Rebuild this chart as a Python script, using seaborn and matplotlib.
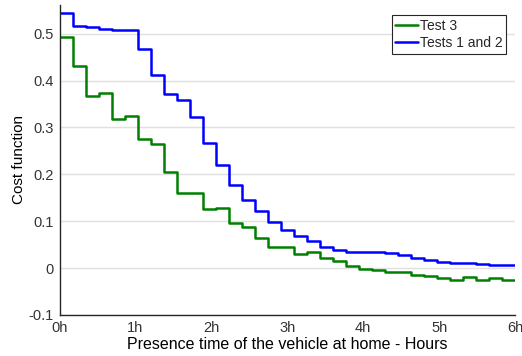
import numpy as np
import pandas as pd
import matplotlib
matplotlib.use("Agg")
import matplotlib.pyplot as plt
import seaborn as sns

# 35 steps of 6/35 h each (stairs), last value repeated at 6h
test3 = [0.492, 0.430, 0.366, 0.373, 0.318, 0.325, 0.276, 0.265, 0.205, 0.160,
         0.161, 0.126, 0.128, 0.097, 0.087, 0.065, 0.045, 0.046, 0.030, 0.035,
         0.021, 0.016, 0.005, -0.002, -0.004, -0.009, -0.008, -0.014, -0.017, -0.022,
         -0.026, -0.020, -0.025, -0.021, -0.025]
tests12 = [0.543, 0.517, 0.514, 0.510, 0.508, 0.507, 0.468, 0.411, 0.372, 0.359,
           0.323, 0.267, 0.219, 0.178, 0.146, 0.121, 0.099, 0.082, 0.069, 0.057,
           0.046, 0.039, 0.034, 0.034, 0.034, 0.032, 0.027, 0.022, 0.018, 0.014,
           0.011, 0.010, 0.0085, 0.0065, 0.006]
series_names = ["Test 3", "Tests 1 and 2"]
xtick_labels = ["0h", "1h", "2h", "3h", "4h", "5h", "6h"]
ytick_values = [-0.1, 0, 0.1, 0.2, 0.3, 0.4, 0.5]

n = len(test3)
hours = np.linspace(0, 6, n + 1)
rows = []
for name, vals in zip(series_names, [test3, tests12]):
    v = list(vals) + [vals[-1]]
    for h, y in zip(hours, v):
        rows.append({"hours": h, "cost": y, "series": name})
df = pd.DataFrame(rows)

sns.set_theme(style="white")
plt.rcParams['font.family'] = ['Liberation Sans', 'DejaVu Sans']

fig = plt.figure(figsize=(5.22, 3.56), dpi=100)
ax = fig.add_axes([59.5/522, 41/356, (515-59.5)/522, 310/356])

sns.lineplot(data=df, x="hours", y="cost", hue="series", hue_order=series_names,
             palette=["#008000", "#0000FF"], drawstyle="steps-post",
             linewidth=1.8, ax=ax, legend=True, estimator=None, sort=True)

ax.set_xlim(0, 6)
ax.set_ylim(-0.1, 0.561)
ax.set_xticks(range(7))
ax.set_xticklabels(xtick_labels)
ax.set_yticks(ytick_values)
ax.set_yticklabels(["-0.1", "0", "0.1", "0.2", "0.3", "0.4", "0.5"])
ax.yaxis.grid(True, color="#e0e0e0", linewidth=1.0)
ax.xaxis.grid(False)
ax.set_axisbelow(True)
for s in ["top", "right"]:
    ax.spines[s].set_visible(False)
for s in ["left", "bottom"]:
    ax.spines[s].set_color("#262626")
    ax.spines[s].set_linewidth(1.0)
ax.tick_params(direction="in", length=4, width=0.8, color="#262626",
               labelsize=10.5, labelcolor="#333333", pad=4)
ax.set_xlabel("Presence time of the vehicle at home - Hours", fontsize=11.5, color="#000000", labelpad=2)
ax.set_ylabel("Cost function", fontsize=11, color="#000000", labelpad=2)

leg = ax.legend(loc="upper right", bbox_to_anchor=(0.98, 0.967), fontsize=10,
                frameon=True, fancybox=False, handlelength=1.6, handletextpad=0.15,
                borderpad=0.25, labelspacing=0.25, borderaxespad=0)
leg.get_frame().set_edgecolor("#262626")
leg.get_frame().set_linewidth(0.8)
leg.get_frame().set_alpha(1)

fig.savefig("out.png", dpi=100)
